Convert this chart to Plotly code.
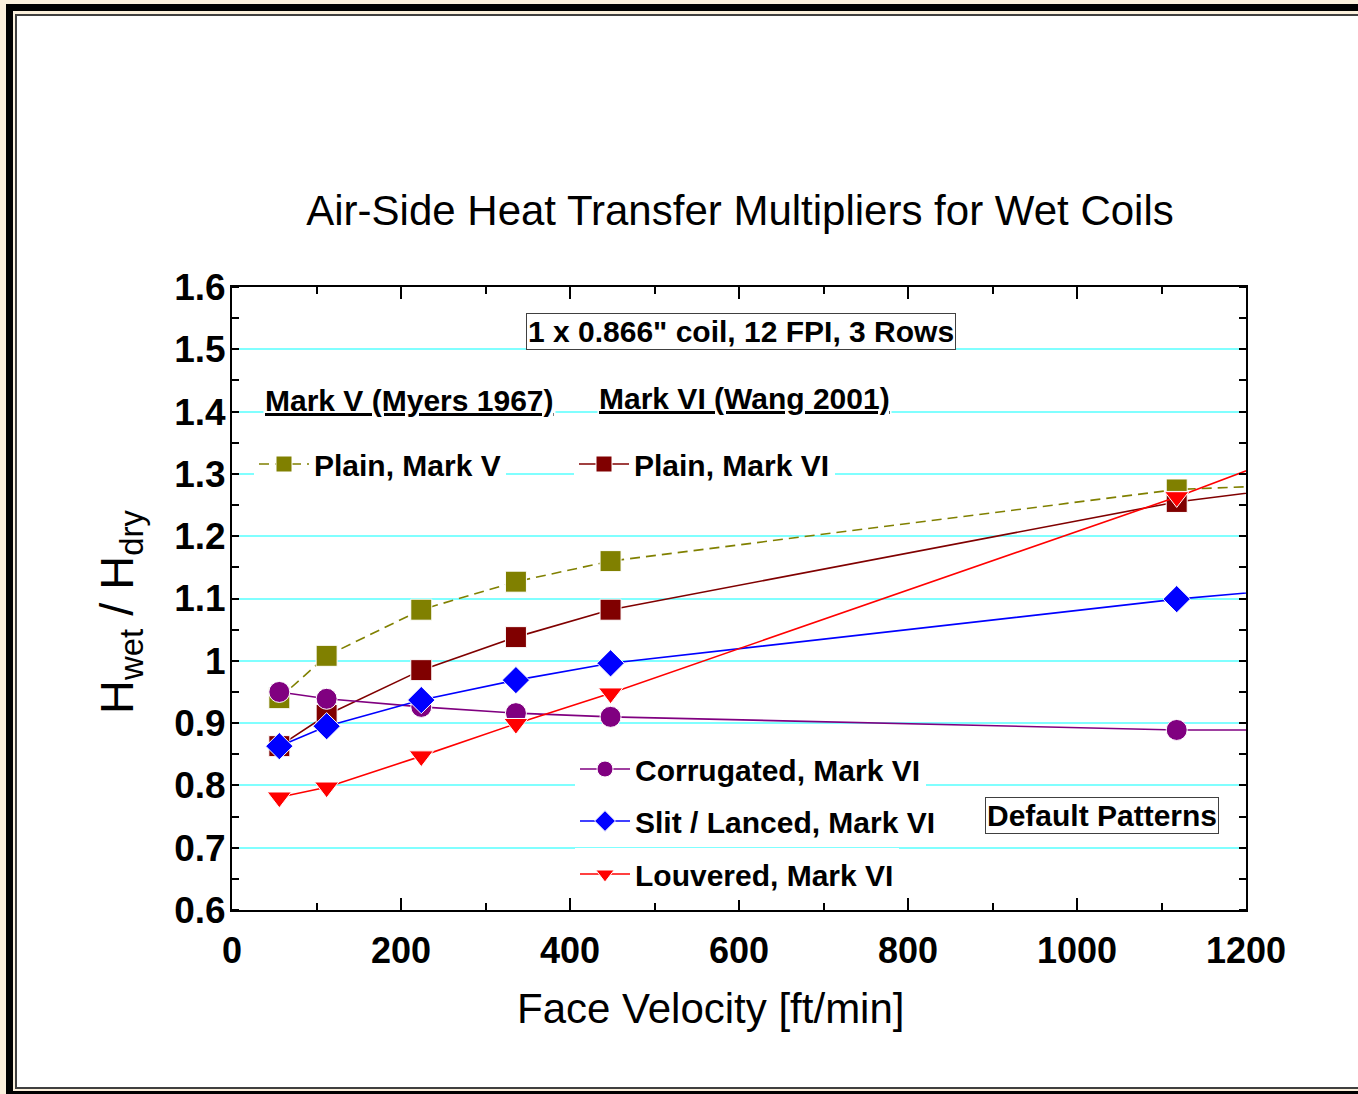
import plotly.graph_objects as go

# ---------------- data ----------------
face_velocity = [56, 112, 224, 336, 448, 1118, 1400]
plain_mark_v = [0.940, 1.008, 1.082, 1.127, 1.160, 1.275, 1.290]
plain_mark_vi = [0.863, 0.913, 0.985, 1.038, 1.082, 1.255, 1.303]
corrugated_mark_vi = [0.950, 0.939, 0.926, 0.916, 0.910, 0.889, 0.889]
slit_lanced_mark_vi = [0.863, 0.895, 0.937, 0.969, 0.996, 1.099, 1.133]
louvered_mark_vi = [0.781, 0.797, 0.847, 0.899, 0.948, 1.263, 1.407]

x_ticks = [0, 200, 400, 600, 800, 1000, 1200]
y_ticks = [0.6, 0.7, 0.8, 0.9, 1.0, 1.1, 1.2, 1.3, 1.4, 1.5, 1.6]

TITLE = "Air-Side Heat Transfer Multipliers for Wet Coils"
X_TITLE = "Face Velocity [ft/min]"
Y_TITLE = "H<sub>wet</sub> / H<sub>dry</sub>"

# ---------------- geometry ----------------
W, H = 1358, 1094
L, R, T, B = 232, 1246, 287, 910
FONT = "Liberation Sans, Arial, sans-serif"


def px(xp):
    return (xp - L) / (R - L)


def py(yp):
    return (B - yp) / (B - T)


fig = go.Figure()

series = [
    ("Plain, Mark V", plain_mark_v, "#808000", "square", "10px,6px", "legend"),
    ("Plain, Mark VI", plain_mark_vi, "#800000", "square", "solid", "legend2"),
    ("Corrugated, Mark VI", corrugated_mark_vi, "#800080", "circle", "solid", "legend3"),
    ("Slit / Lanced, Mark VI", slit_lanced_mark_vi, "#0000FF", "diamond", "solid", "legend4"),
    ("Louvered, Mark VI", louvered_mark_vi, "#FF0000", "triangle-down", "solid", "legend5"),
]

for name, yv, col, sym, dash, leg in series:
    fig.add_trace(go.Scatter(
        x=face_velocity, y=yv, name=name, mode="lines+markers",
        line=dict(color=col, width=1.6, dash=dash),
        marker=dict(symbol=sym, size=21, color=col, line=dict(color="white", width=1)),
        legend=leg,
    ))

legend_common = dict(
    bgcolor="white", borderwidth=0,
    font=dict(family=FONT, size=30, color="black", weight="bold"),
    itemwidth=50, xanchor="left", yanchor="middle",
)
fig.update_layout(
    legend=dict(x=px(254), y=py(464), **legend_common),
    legend2=dict(x=px(574), y=py(464), **legend_common),
    legend3=dict(x=px(575), y=py(769), **legend_common),
    legend4=dict(x=px(575), y=py(821), **legend_common),
    legend5=dict(x=px(575), y=py(874), **legend_common),
)

# ---------------- frame ----------------
frame = [
    (6, 4, 1400, 1120, "#000000"),
    (13, 11, 1400, 1091, "#FBF0DC"),
    (15, 14, 1400, 1089, "#404040"),
    (17, 16, 1400, 1087, "#FFFFFF"),
]
shapes = []
for x0, y0, x1, y1, c in frame:
    shapes.append(dict(type="rect", xref="paper", yref="paper",
                       x0=px(x0), x1=px(x1), y0=py(y1), y1=py(y0),
                       fillcolor=c, line=dict(width=0), layer="below"))

annotations = [
    dict(text="<b>1 x 0.866\" coil, 12 FPI, 3 Rows</b>", x=px(741), y=py(331),
         bordercolor="#404040", borderwidth=1, borderpad=1, bgcolor="white",
         font=dict(family=FONT, size=30, color="black")),
    dict(text="<b>Default Patterns</b>", x=px(1102), y=py(815),
         bordercolor="#404040", borderwidth=1, borderpad=1, bgcolor="white",
         font=dict(family=FONT, size=30, color="black")),
    dict(text="<b><u>Mark V (Myers 1967)</u></b>", x=px(409), y=py(400), bgcolor="white",
         font=dict(family=FONT, size=30, color="black")),
    dict(text="<b><u>Mark VI (Wang 2001)</u></b>", x=px(744), y=py(398), bgcolor="white",
         font=dict(family=FONT, size=30, color="black")),
    # axis titles
    dict(text=X_TITLE, x=px(710), y=py(1008),
         font=dict(family=FONT, size=42, color="black")),
    dict(text=Y_TITLE, x=px(120), y=py(612), textangle=-90,
         font=dict(family=FONT, size=47, color="black")),
]
for a in annotations:
    a.update(xref="paper", yref="paper", showarrow=False,
             xanchor="center", yanchor="middle")

fig.update_layout(
    width=W, height=H, autosize=False,
    margin=dict(l=L, r=W - R, t=T, b=H - B, pad=0),
    paper_bgcolor="#FBF0DC", plot_bgcolor="white",
    shapes=shapes, annotations=annotations,
    title=dict(text=TITLE, x=px(740), xref="paper", xanchor="center",
               y=1 - 210 / H, yref="container", yanchor="middle",
               font=dict(family=FONT, size=42, color="black")),
    showlegend=True,
)

fig.update_xaxes(
    range=[0, 1200], tickvals=x_ticks, ticks="inside", ticklen=12, tickwidth=1.5,
    tickcolor="black", minor=dict(dtick=100, ticks="inside", ticklen=7, tickwidth=1.5, tickcolor="black"),
    showline=True, linewidth=2, linecolor="black", mirror="allticks",
    showgrid=False, zeroline=False,
    tickfont=dict(family=FONT, size=36, color="black", weight="bold"),
    ticklabelstandoff=8,
)
fig.update_yaxes(
    range=[0.6, 1.6], tickvals=y_ticks, ticks="",
    minor=dict(dtick=0.05, tick0=0.6, ticks="inside", ticklen=7, tickwidth=1.5, tickcolor="black"),
    showline=True, linewidth=2, linecolor="black", mirror="allticks",
    showgrid=True, gridcolor="#80FFFF", gridwidth=2, zeroline=False,
    tickfont=dict(family=FONT, size=37, color="black", weight="bold"),
    ticklabelstandoff=-3,
)

fig.write_html("out.html")
